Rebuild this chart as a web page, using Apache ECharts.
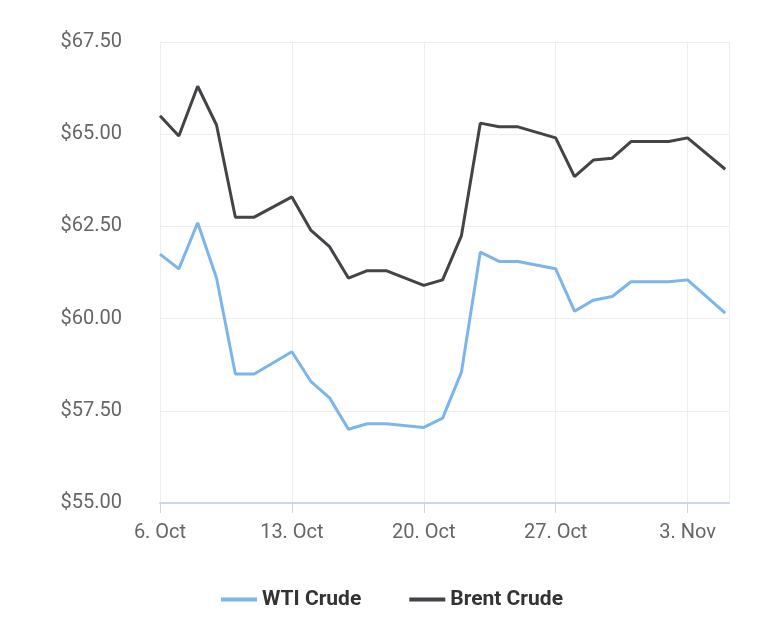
<!DOCTYPE html><html><head><meta charset="utf-8"><script src="https://cdn.jsdelivr.net/npm/echarts@6/dist/echarts.min.js"></script></head><body style="margin:0"><div id="c" style="width:784px;height:639px"></div><script>
const days=[0,1,2,3,4,5,7,8,9,10,11,12,14,15,16,17,18,19,21,22,23,24,25,26,27,28,30];
const wti=[61.75,61.35,62.6,61.1,58.5,58.5,59.1,58.3,57.85,57.0,57.15,57.15,57.05,57.3,58.55,61.8,61.55,61.55,61.35,60.2,60.5,60.6,61.0,61.0,61.0,61.05,60.15];
const brent=[65.5,64.95,66.3,65.25,62.75,62.75,63.3,62.4,61.95,61.1,61.3,61.3,60.9,61.05,62.25,65.3,65.2,65.2,64.9,63.85,64.3,64.35,64.8,64.8,64.8,64.9,64.05];
const xLabels={0:'6. Oct',7:'13. Oct',14:'20. Oct',21:'27. Oct',28:'3. Nov'};
const ch=echarts.init(document.getElementById('c'));
const f='Roboto';
ch.setOption({animation:false,
grid:{left:160,right:55,top:42,bottom:136},
legend:{bottom:24,itemWidth:36,itemHeight:4,itemGap:48,icon:'rect',textStyle:{fontFamily:f,fontSize:21,fontWeight:'bold',color:'#333'}},
xAxis:{type:'value',min:0,max:30.2,interval:7,axisLine:{lineStyle:{color:'#ccd6eb',width:2}},axisTick:{show:true,length:10,lineStyle:{color:'#ccd6eb'}},
splitLine:{lineStyle:{color:'#eeeeee'}},axisLabel:{fontFamily:f,fontSize:20,color:'#666',margin:20,showMaxLabel:false,formatter:v=>xLabels[v]||''}},
yAxis:{type:'value',min:55,max:67.5,interval:2.5,axisLine:{show:false},axisTick:{show:false},axisLabel:{fontFamily:f,fontSize:20,color:'#666',margin:38,formatter:v=>'$'+v.toFixed(2)},splitLine:{lineStyle:{color:'#eeeeee'}}},
series:[{name:'WTI Crude',type:'line',showSymbol:false,data:days.map((d,i)=>[d,wti[i]]),lineStyle:{width:3,color:'#7cb5ec'},itemStyle:{color:'#7cb5ec'}},
{name:'Brent Crude',type:'line',showSymbol:false,data:days.map((d,i)=>[d,brent[i]]),lineStyle:{width:3,color:'#434348'},itemStyle:{color:'#434348'}}]});
</script></body></html>
